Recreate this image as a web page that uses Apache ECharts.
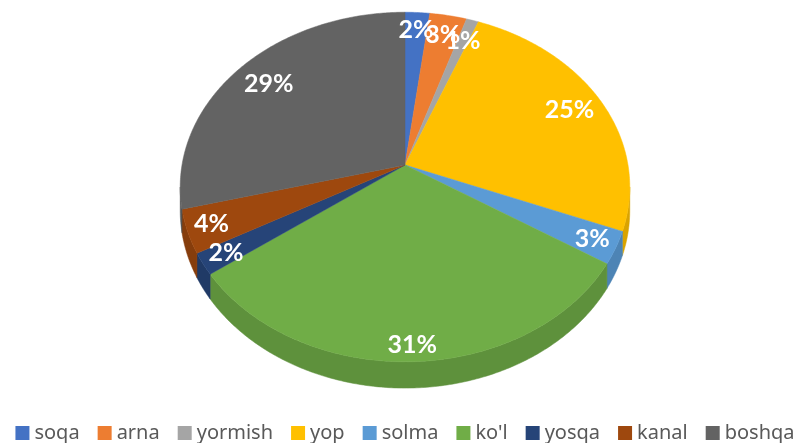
<!DOCTYPE html>
<html>
<head>
<meta charset="utf-8">
<script src="https://cdn.jsdelivr.net/npm/echarts@6/dist/echarts.min.js"></script>
<style>
  html, body { margin: 0; padding: 0; background: #fff; }
  #chart { width: 810px; height: 443px; }
</style>
</head>
<body>
<div id="chart"></div>
<script>
// data
var categories = ['soqa', 'arna', 'yormish', 'yop', 'solma', "ko'l", 'yosqa', 'kanal', 'boshqa'];
var shares = [2, 3, 1, 25, 3, 31, 2, 4, 29];
var colors = ['#4472C4', '#ED7D31', '#A5A5A5', '#FFC000', '#5B9BD5', '#70AD47', '#264478', '#9E480E', '#636363'];
var sideColors = ['#3A62A8', '#C9692A', '#8C8C8C', '#D9A300', '#4D84B5', '#5E913C', '#203A66', '#863D0C', '#545454'];

// 3d pie look (tilted disc with a little perspective)
var CX = 405, CY = 165, RX = 223, RY = 172, P = 0.126, DEPTH = 23;
var TMIN = Math.acos(-P), TMAX = 2 * Math.PI - TMIN;
var LABEL_FONT = 'bold 25px Lato';

var total = 0;
for (var i = 0; i < shares.length; i++) total += shares[i];

var measureCtx = document.createElement('canvas').getContext('2d');
measureCtx.font = LABEL_FONT;

function project(theta, f, down) {
    var x = Math.sin(theta) * f, z = Math.cos(theta) * f;
    var w = 1 + P * z;
    return [CX + RX * x / w, CY - RY * z / w + (down ? DEPTH / w : 0)];
}

function arcPoints(a0, a1, down) {
    var pts = [];
    var n = Math.max(2, Math.ceil((a1 - a0) / 0.01));
    for (var k = 0; k <= n; k++) {
        pts.push(project(a0 + (a1 - a0) * k / n, 1, down));
    }
    return pts;
}

function makeRender(idx) {
    return function (params, api) {
        var start = api.value(1), val = api.value(0);
        var t0 = start / total * 2 * Math.PI;
        var t1 = (start + val) / total * 2 * Math.PI;
        var children = [];

        // side wall (only the front part is visible)
        var a0 = Math.max(t0, TMIN), a1 = Math.min(t1, TMAX);
        if (a0 < a1) {
            var topEdge = arcPoints(a0, a1, false);
            var botEdge = arcPoints(a0, a1, true).reverse();
            children.push({
                type: 'polygon',
                shape: {points: topEdge.concat(botEdge)},
                style: {fill: sideColors[idx], stroke: sideColors[idx], lineWidth: 0.5}
            });
        }

        // top face
        var top = [[CX, CY]].concat(arcPoints(t0, t1, false));
        children.push({
            type: 'polygon',
            shape: {points: top},
            style: {fill: colors[idx], stroke: colors[idx], lineWidth: 0.5}
        });

        // label, inside end
        var text = Math.round(val / total * 100) + '%';
        var mid = (t0 + t1) / 2;
        var edge = project(mid, 1, false);
        var dx = edge[0] - CX, dy = edge[1] - CY;
        var len = Math.sqrt(dx * dx + dy * dy);
        dx /= len; dy /= len;
        var halfW = measureCtx.measureText(text).width / 2, halfH = 11;
        var off = halfW * Math.abs(dx) + halfH * Math.abs(dy) + 5;
        children.push({
            type: 'text',
            z2: 100,
            style: {
                x: edge[0] - dx * off,
                y: edge[1] - dy * off,
                text: text,
                fill: '#fff',
                font: LABEL_FONT,
                align: 'center',
                verticalAlign: 'middle'
            }
        });

        return {type: 'group', children: children};
    };
}

var myChart = echarts.init(document.getElementById('chart'));

var series = [];
var acc = 0;
for (var i = 0; i < categories.length; i++) {
    series.push({
        name: categories[i],
        type: 'custom',
        coordinateSystem: 'none',
        itemStyle: {color: colors[i]},
        renderItem: makeRender(i),
        data: [[shares[i], acc]]
    });
    acc += shares[i];
}

var option = {
    backgroundColor: '#fff',
    animation: false,
    legend: {
        data: categories,
        top: 423,
        left: 'center',
        icon: 'rect',
        itemWidth: 14,
        itemHeight: 14,
        itemGap: 18,
        padding: 0,
        textStyle: {
            color: '#595959',
            fontSize: 20,
            fontFamily: 'Noto Sans'
        }
    },
    series: series
};

myChart.setOption(option);
</script>
</body>
</html>
